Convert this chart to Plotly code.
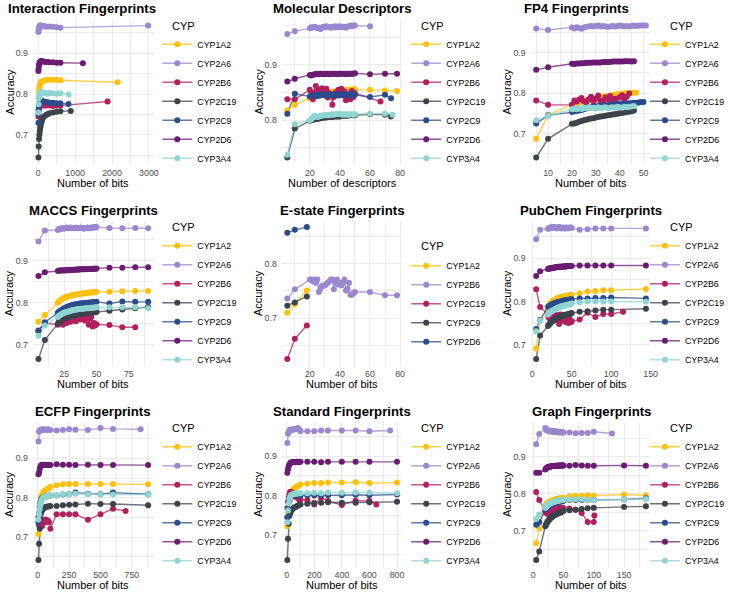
import plotly.graph_objects as go

W, H = 740, 593
FONT = "Liberation Sans, Arial, Helvetica, sans-serif"

CYP_ALL = ["CYP1A2", "CYP2A6", "CYP2B6", "CYP2C19", "CYP2C9", "CYP2D6", "CYP3A4"]
CYP_ESTATE = ["CYP1A2", "CYP2B6", "CYP2C19", "CYP2C9", "CYP2D6"]
PALETTE = ["#FCC00F", "#9B87CF", "#B21F5E", "#3D424B", "#2C4B8C", "#6B1C72", "#8FD5D2"]

# ---------------- shared x grids ----------------
X_INT = [5, 10, 20, 30, 40, 50, 60, 70, 80, 90, 100, 150, 200, 250, 300, 400, 500, 600]
X_MD = [5, 10, 20, 21, 22, 23, 24, 25, 26, 27, 28, 29, 30, 31, 32, 33, 34, 35, 36, 37,
        38, 39, 40, 41, 42, 43, 44, 45, 46, 47, 48, 49, 50]
X_FP4 = [5, 10, 20, 21, 22, 23, 24, 25, 26, 27, 28, 29, 30, 31, 32, 33, 34, 35, 36, 37,
         38, 39, 40, 41, 42, 43, 44, 45, 46, 47, 48, 49, 50, 51]
X_ESTATE = [5, 10, 18]
X_ECFP = [5, 10, 15, 20, 25, 30, 35, 40, 45, 50, 60, 70, 80, 90, 100, 150, 200, 250, 300, 400, 500, 600]
X_STD = [5, 10, 15, 20, 25, 30, 40, 50, 60, 70, 80, 90, 100, 150, 200, 250, 300, 400, 500, 600]

# ---------------- Interaction Fingerprints ----------------
interaction_x = {
    "CYP1A2": X_INT + [2150], "CYP2A6": X_INT + [2980], "CYP2B6": X_INT + [1880],
    "CYP2C19": X_INT + [880], "CYP2C9": X_INT + [820], "CYP2D6": X_INT + [1210],
    "CYP3A4": X_INT + [820],
}
interaction_y = {
    "CYP1A2": [0.762, 0.790, 0.805, 0.815, 0.820, 0.824, 0.826, 0.828, 0.829, 0.830, 0.831, 0.833, 0.834, 0.835, 0.835, 0.835, 0.835, 0.834, 0.829],
    "CYP2A6": [0.952, 0.957, 0.962, 0.965, 0.967, 0.968, 0.967, 0.966, 0.967, 0.968, 0.966, 0.967, 0.966, 0.965, 0.966, 0.965, 0.964, 0.963, 0.968],
    "CYP2B6": [0.745, 0.760, 0.768, 0.772, 0.774, 0.773, 0.775, 0.774, 0.773, 0.774, 0.773, 0.772, 0.772, 0.773, 0.772, 0.771, 0.772, 0.772, 0.782],
    "CYP2C19": [0.645, 0.672, 0.690, 0.700, 0.708, 0.715, 0.720, 0.725, 0.730, 0.733, 0.736, 0.744, 0.748, 0.751, 0.753, 0.755, 0.757, 0.758, 0.759],
    "CYP2C9": [0.730, 0.750, 0.765, 0.772, 0.777, 0.780, 0.782, 0.783, 0.784, 0.783, 0.783, 0.782, 0.781, 0.780, 0.779, 0.779, 0.778, 0.778, 0.776],
    "CYP2D6": [0.857, 0.862, 0.870, 0.875, 0.878, 0.879, 0.880, 0.880, 0.880, 0.881, 0.880, 0.880, 0.879, 0.879, 0.878, 0.878, 0.877, 0.877, 0.876],
    "CYP3A4": [0.755, 0.775, 0.790, 0.796, 0.800, 0.802, 0.803, 0.804, 0.805, 0.804, 0.804, 0.804, 0.802, 0.801, 0.803, 0.802, 0.801, 0.802, 0.799],
}

# ---------------- Molecular Descriptors ----------------
molecular_x = {
    "CYP1A2": X_MD + [60, 70, 78], "CYP2A6": X_MD + [60], "CYP2B6": X_MD + [67],
    "CYP2C19": X_MD + [60, 70, 74], "CYP2C9": X_MD + [60, 70, 74], "CYP2D6": X_MD + [60, 70, 78],
    "CYP3A4": X_MD + [60, 70, 75],
}
molecular_y = {
    "CYP1A2": [0.818, 0.828, 0.840, 0.841, 0.842, 0.843, 0.844, 0.845, 0.846, 0.846, 0.847, 0.848, 0.848, 0.849, 0.850, 0.850, 0.851, 0.851, 0.852, 0.852, 0.852, 0.853, 0.853, 0.853, 0.854, 0.854, 0.854, 0.855, 0.855, 0.855, 0.855, 0.856, 0.856, 0.855, 0.854, 0.853],
    "CYP2A6": [0.956, 0.961, 0.966, 0.968, 0.967, 0.969, 0.968, 0.966, 0.967, 0.965, 0.967, 0.969, 0.968, 0.970, 0.969, 0.968, 0.967, 0.969, 0.968, 0.970, 0.969, 0.968, 0.970, 0.969, 0.968, 0.969, 0.967, 0.969, 0.970, 0.971, 0.970, 0.971, 0.971, 0.970],
    "CYP2B6": [0.838, 0.838, 0.855, 0.848, 0.838, 0.850, 0.862, 0.856, 0.845, 0.852, 0.858, 0.846, 0.853, 0.857, 0.841, 0.849, 0.846, 0.828, 0.842, 0.850, 0.846, 0.855, 0.849, 0.857, 0.845, 0.852, 0.836, 0.848, 0.844, 0.838, 0.853, 0.842, 0.849, 0.834],
    "CYP2C19": [0.733, 0.785, 0.799, 0.800, 0.801, 0.802, 0.802, 0.803, 0.803, 0.804, 0.804, 0.805, 0.805, 0.805, 0.806, 0.806, 0.806, 0.806, 0.807, 0.807, 0.807, 0.807, 0.807, 0.808, 0.808, 0.808, 0.808, 0.808, 0.809, 0.809, 0.809, 0.809, 0.809, 0.811, 0.810, 0.807],
    "CYP2C9": [0.812, 0.848, 0.843, 0.844, 0.845, 0.846, 0.845, 0.844, 0.846, 0.845, 0.846, 0.847, 0.845, 0.846, 0.845, 0.847, 0.846, 0.845, 0.846, 0.847, 0.846, 0.845, 0.847, 0.846, 0.847, 0.846, 0.845, 0.846, 0.847, 0.846, 0.845, 0.847, 0.846, 0.842, 0.846, 0.840],
    "CYP2D6": [0.870, 0.875, 0.882, 0.881, 0.882, 0.883, 0.883, 0.884, 0.883, 0.884, 0.884, 0.883, 0.884, 0.884, 0.884, 0.883, 0.884, 0.884, 0.884, 0.884, 0.883, 0.884, 0.884, 0.884, 0.884, 0.884, 0.883, 0.884, 0.884, 0.884, 0.884, 0.884, 0.885, 0.883, 0.884, 0.884],
    "CYP3A4": [0.738, 0.793, 0.800, 0.802, 0.805, 0.808, 0.807, 0.806, 0.807, 0.808, 0.808, 0.809, 0.809, 0.810, 0.809, 0.810, 0.810, 0.811, 0.810, 0.811, 0.811, 0.812, 0.811, 0.811, 0.810, 0.811, 0.810, 0.811, 0.810, 0.811, 0.811, 0.810, 0.811, 0.812, 0.812, 0.810],
}

# ---------------- FP4 Fingerprints ----------------
fp4_x = {
    "CYP1A2": X_FP4[:30], "CYP2A6": X_FP4[:34], "CYP2B6": X_FP4[:27], "CYP2C19": X_FP4[:29],
    "CYP2C9": X_FP4[:33], "CYP2D6": X_FP4[:29], "CYP3A4": X_FP4[:29],
}
fp4_y = {
    "CYP1A2": [0.687, 0.745, 0.772, 0.773, 0.774, 0.776, 0.778, 0.779, 0.781, 0.783, 0.784, 0.786, 0.787, 0.789, 0.790, 0.791, 0.792, 0.793, 0.794, 0.795, 0.796, 0.797, 0.798, 0.799, 0.799, 0.800, 0.800, 0.801, 0.801, 0.801],
    "CYP2A6": [0.960, 0.956, 0.9625, 0.960, 0.963, 0.961, 0.959, 0.962, 0.964, 0.965, 0.966, 0.965, 0.966, 0.967, 0.965, 0.966, 0.965, 0.964, 0.965, 0.966, 0.965, 0.966, 0.967, 0.966, 0.965, 0.966, 0.965, 0.966, 0.967, 0.966, 0.967, 0.967, 0.967, 0.967],
    "CYP2B6": [0.782, 0.771, 0.771, 0.782, 0.779, 0.784, 0.788, 0.780, 0.776, 0.785, 0.791, 0.779, 0.786, 0.794, 0.781, 0.777, 0.789, 0.784, 0.793, 0.779, 0.786, 0.775, 0.790, 0.795, 0.783, 0.791, 0.799],
    "CYP2C19": [0.641, 0.687, 0.724, 0.725, 0.727, 0.729, 0.731, 0.733, 0.734, 0.736, 0.737, 0.738, 0.740, 0.741, 0.742, 0.743, 0.744, 0.745, 0.746, 0.747, 0.748, 0.749, 0.750, 0.751, 0.752, 0.753, 0.754, 0.755, 0.757],
    "CYP2C9": [0.725, 0.745, 0.753, 0.755, 0.756, 0.757, 0.758, 0.760, 0.762, 0.764, 0.765, 0.766, 0.767, 0.768, 0.768, 0.769, 0.769, 0.770, 0.771, 0.771, 0.772, 0.772, 0.773, 0.773, 0.774, 0.774, 0.775, 0.775, 0.776, 0.776, 0.777, 0.778, 0.778],
    "CYP2D6": [0.8575, 0.864, 0.8725, 0.872, 0.873, 0.873, 0.874, 0.874, 0.875, 0.875, 0.875, 0.876, 0.876, 0.876, 0.876, 0.877, 0.877, 0.877, 0.877, 0.878, 0.878, 0.878, 0.878, 0.878, 0.879, 0.879, 0.879, 0.878, 0.879],
    "CYP3A4": [0.733, 0.744, 0.760, 0.762, 0.760, 0.763, 0.761, 0.764, 0.762, 0.765, 0.763, 0.764, 0.762, 0.765, 0.763, 0.764, 0.765, 0.763, 0.764, 0.765, 0.764, 0.766, 0.765, 0.764, 0.766, 0.765, 0.766, 0.767, 0.768],
}

# ---------------- MACCS Fingerprints ----------------
maccs_x = {
    "CYP1A2": X_MD + [60, 70, 80, 90], "CYP2A6": X_MD + [60, 70, 80, 90], "CYP2B6": X_MD + [60, 70, 80],
    "CYP2C19": X_MD + [60, 70, 80, 90], "CYP2C9": X_MD + [60, 70, 80, 90], "CYP2D6": X_MD + [60, 70, 80, 90],
    "CYP3A4": X_MD + [60, 70, 80, 90],
}
maccs_y = {
    "CYP1A2": [0.755, 0.771, 0.800, 0.803, 0.806, 0.808, 0.810, 0.811, 0.813, 0.814, 0.815, 0.816, 0.817, 0.817, 0.818, 0.819, 0.819, 0.820, 0.820, 0.821, 0.821, 0.822, 0.822, 0.823, 0.823, 0.823, 0.824, 0.824, 0.824, 0.825, 0.825, 0.825, 0.826, 0.826, 0.827, 0.828, 0.828],
    "CYP2A6": [0.945, 0.971, 0.972, 0.975, 0.974, 0.976, 0.977, 0.975, 0.977, 0.978, 0.976, 0.977, 0.978, 0.977, 0.976, 0.977, 0.978, 0.977, 0.976, 0.977, 0.978, 0.977, 0.975, 0.976, 0.977, 0.978, 0.976, 0.977, 0.978, 0.977, 0.979, 0.978, 0.979, 0.977, 0.976, 0.977, 0.976],
    "CYP2B6": [0.733, 0.752, 0.748, 0.760, 0.755, 0.765, 0.748, 0.758, 0.762, 0.752, 0.766, 0.759, 0.755, 0.768, 0.762, 0.770, 0.756, 0.765, 0.772, 0.760, 0.768, 0.764, 0.771, 0.758, 0.766, 0.770, 0.748, 0.762, 0.766, 0.744, 0.752, 0.746, 0.749, 0.747, 0.742, 0.742],
    "CYP2C19": [0.667, 0.712, 0.750, 0.754, 0.757, 0.759, 0.761, 0.763, 0.764, 0.765, 0.766, 0.767, 0.768, 0.769, 0.770, 0.771, 0.771, 0.772, 0.773, 0.773, 0.774, 0.774, 0.775, 0.775, 0.776, 0.776, 0.776, 0.777, 0.777, 0.777, 0.778, 0.778, 0.778, 0.781, 0.784, 0.787, 0.790],
    "CYP2C9": [0.734, 0.754, 0.776, 0.779, 0.781, 0.783, 0.785, 0.787, 0.788, 0.790, 0.791, 0.792, 0.793, 0.794, 0.795, 0.796, 0.796, 0.797, 0.797, 0.798, 0.798, 0.799, 0.799, 0.799, 0.800, 0.800, 0.800, 0.800, 0.801, 0.801, 0.801, 0.801, 0.802, 0.798, 0.803, 0.802, 0.802],
    "CYP2D6": [0.863, 0.872, 0.875, 0.876, 0.876, 0.876, 0.877, 0.876, 0.877, 0.877, 0.877, 0.878, 0.877, 0.878, 0.878, 0.878, 0.878, 0.879, 0.878, 0.879, 0.879, 0.879, 0.879, 0.880, 0.879, 0.880, 0.880, 0.880, 0.880, 0.880, 0.881, 0.880, 0.881, 0.883, 0.883, 0.884, 0.884],
    "CYP3A4": [0.722, 0.746, 0.766, 0.769, 0.771, 0.773, 0.775, 0.776, 0.777, 0.778, 0.779, 0.780, 0.781, 0.782, 0.782, 0.783, 0.784, 0.784, 0.785, 0.785, 0.786, 0.786, 0.786, 0.787, 0.787, 0.787, 0.787, 0.788, 0.788, 0.788, 0.788, 0.789, 0.789, 0.789, 0.789, 0.789, 0.787],
}

# ---------------- E-state Fingerprints ----------------
estate_x = {
    "CYP1A2": X_ESTATE, "CYP2B6": X_MD + [60, 70, 78], "CYP2C19": X_ESTATE,
    "CYP2C9": X_ESTATE, "CYP2D6": X_ESTATE,
}
estate_y = {
    "CYP1A2": [0.710, 0.726, 0.751],
    "CYP2B6": [0.736, 0.753, 0.771, 0.771, 0.768, 0.771, 0.765, 0.771, 0.748, 0.754, 0.759, 0.760, 0.760, 0.763, 0.765, 0.768, 0.771, 0.771, 0.753, 0.765, 0.771, 0.762, 0.765, 0.760, 0.765, 0.771, 0.751, 0.754, 0.765, 0.743, 0.743, 0.746, 0.748, 0.748, 0.742, 0.742],
    "CYP2C19": [0.625, 0.662, 0.6865],
    "CYP2C9": [0.723, 0.729, 0.740],
    "CYP2D6": [0.857, 0.8625, 0.8675],
}

# ---------------- PubChem Fingerprints ----------------
pubchem_x = {
    "CYP1A2": X_MD + [60, 70, 80, 90, 100, 144], "CYP2A6": X_MD + [60, 70, 80, 90, 100, 144],
    "CYP2B6": X_MD + [60, 70, 80, 90, 100, 115], "CYP2C19": X_MD + [60, 70, 80, 90, 100, 144],
    "CYP2C9": X_MD + [60, 70, 80, 90, 100, 144], "CYP2D6": X_MD + [60, 70, 80, 90, 100, 144],
    "CYP3A4": X_MD + [60, 70, 80, 90, 100, 144],
}
pubchem_y = {
    "CYP1A2": [0.691, 0.758, 0.785, 0.789, 0.792, 0.795, 0.797, 0.799, 0.800, 0.802, 0.803, 0.804, 0.805, 0.806, 0.807, 0.808, 0.809, 0.809, 0.810, 0.810, 0.811, 0.811, 0.812, 0.812, 0.812, 0.813, 0.813, 0.813, 0.814, 0.814, 0.814, 0.815, 0.815, 0.819, 0.823, 0.824, 0.826, 0.826, 0.829],
    "CYP2A6": [0.944, 0.966, 0.968, 0.970, 0.969, 0.971, 0.970, 0.972, 0.971, 0.970, 0.972, 0.971, 0.970, 0.969, 0.971, 0.970, 0.972, 0.971, 0.970, 0.969, 0.970, 0.971, 0.970, 0.969, 0.970, 0.971, 0.970, 0.969, 0.970, 0.971, 0.970, 0.971, 0.970, 0.966, 0.967, 0.969, 0.969, 0.969, 0.969],
    "CYP2B6": [0.828, 0.787, 0.770, 0.762, 0.768, 0.758, 0.765, 0.772, 0.755, 0.768, 0.762, 0.770, 0.757, 0.765, 0.760, 0.768, 0.748, 0.762, 0.770, 0.758, 0.765, 0.760, 0.755, 0.768, 0.762, 0.752, 0.765, 0.758, 0.750, 0.762, 0.755, 0.752, 0.754, 0.758, 0.774, 0.764, 0.771, 0.771, 0.776],
    "CYP2C19": [0.667, 0.721, 0.743, 0.746, 0.748, 0.750, 0.752, 0.754, 0.755, 0.757, 0.758, 0.759, 0.760, 0.761, 0.762, 0.763, 0.764, 0.765, 0.765, 0.766, 0.767, 0.767, 0.768, 0.768, 0.769, 0.769, 0.770, 0.770, 0.771, 0.771, 0.772, 0.772, 0.773, 0.776, 0.777, 0.779, 0.781, 0.781, 0.783],
    "CYP2C9": [0.736, 0.757, 0.787, 0.789, 0.790, 0.791, 0.792, 0.793, 0.794, 0.795, 0.795, 0.796, 0.797, 0.797, 0.798, 0.798, 0.799, 0.799, 0.800, 0.800, 0.801, 0.801, 0.802, 0.802, 0.802, 0.803, 0.803, 0.803, 0.804, 0.804, 0.804, 0.805, 0.805, 0.807, 0.807, 0.808, 0.808, 0.809, 0.807],
    "CYP2D6": [0.859, 0.870, 0.875, 0.876, 0.876, 0.877, 0.877, 0.877, 0.878, 0.878, 0.878, 0.879, 0.879, 0.879, 0.879, 0.880, 0.880, 0.880, 0.880, 0.880, 0.881, 0.881, 0.881, 0.881, 0.881, 0.881, 0.882, 0.882, 0.882, 0.882, 0.882, 0.882, 0.882, 0.883, 0.883, 0.883, 0.883, 0.883, 0.883],
    "CYP3A4": [0.731, 0.756, 0.770, 0.772, 0.774, 0.776, 0.777, 0.778, 0.779, 0.780, 0.781, 0.782, 0.783, 0.784, 0.785, 0.786, 0.786, 0.787, 0.788, 0.788, 0.789, 0.789, 0.790, 0.790, 0.791, 0.791, 0.792, 0.792, 0.793, 0.793, 0.794, 0.794, 0.795, 0.798, 0.800, 0.800, 0.800, 0.800, 0.799],
}

# ---------------- ECFP Fingerprints ----------------
ecfp_x = {
    "CYP1A2": X_ECFP + [880], "CYP2A6": X_ECFP + [820], "CYP2B6": X_ECFP + [700],
    "CYP2C19": X_ECFP + [880], "CYP2C9": X_ECFP + [880], "CYP2D6": X_ECFP + [880],
    "CYP3A4": X_ECFP + [880],
}
ecfp_y = {
    "CYP1A2": [0.708, 0.734, 0.764, 0.789, 0.800, 0.805, 0.808, 0.810, 0.813, 0.817, 0.819, 0.821, 0.823, 0.825, 0.828, 0.832, 0.834, 0.835, 0.835, 0.835, 0.835, 0.835, 0.834],
    "CYP2A6": [0.943, 0.968, 0.970, 0.972, 0.973, 0.972, 0.974, 0.973, 0.972, 0.974, 0.973, 0.972, 0.974, 0.973, 0.972, 0.971, 0.972, 0.974, 0.973, 0.972, 0.977, 0.975, 0.974],
    "CYP2B6": [0.751, 0.730, 0.745, 0.725, 0.738, 0.743, 0.728, 0.735, 0.740, 0.738, 0.745, 0.738, 0.742, 0.738, 0.721, 0.758, 0.758, 0.758, 0.758, 0.744, 0.758, 0.772, 0.766],
    "CYP2C19": [0.642, 0.683, 0.721, 0.747, 0.760, 0.766, 0.769, 0.771, 0.773, 0.775, 0.776, 0.777, 0.778, 0.778, 0.779, 0.779, 0.781, 0.782, 0.783, 0.785, 0.784, 0.784, 0.781],
    "CYP2C9": [0.738, 0.760, 0.776, 0.787, 0.793, 0.797, 0.799, 0.800, 0.801, 0.802, 0.803, 0.804, 0.804, 0.805, 0.806, 0.806, 0.808, 0.809, 0.813, 0.810, 0.809, 0.813, 0.809],
    "CYP2D6": [0.860, 0.864, 0.873, 0.879, 0.882, 0.883, 0.883, 0.884, 0.883, 0.884, 0.883, 0.884, 0.883, 0.884, 0.883, 0.885, 0.884, 0.884, 0.883, 0.884, 0.883, 0.883, 0.883],
    "CYP3A4": [0.745, 0.758, 0.771, 0.781, 0.788, 0.793, 0.796, 0.798, 0.800, 0.801, 0.803, 0.804, 0.805, 0.805, 0.806, 0.806, 0.809, 0.808, 0.810, 0.809, 0.808, 0.808, 0.808],
}

# ---------------- Standard Fingerprints ----------------
standard_x = {
    "CYP1A2": X_STD + [800], "CYP2A6": X_STD + [750], "CYP2B6": X_STD + [650],
    "CYP2C19": X_STD + [800], "CYP2C9": X_STD + [800], "CYP2D6": X_STD + [800],
    "CYP3A4": X_STD + [800],
}
standard_y = {
    "CYP1A2": [0.722, 0.758, 0.783, 0.796, 0.800, 0.805, 0.811, 0.816, 0.819, 0.822, 0.824, 0.826, 0.828, 0.830, 0.832, 0.832, 0.833, 0.833, 0.834, 0.832, 0.833],
    "CYP2A6": [0.934, 0.958, 0.962, 0.966, 0.968, 0.966, 0.969, 0.968, 0.970, 0.969, 0.972, 0.969, 0.964, 0.964, 0.964, 0.966, 0.966, 0.966, 0.966, 0.964, 0.966],
    "CYP2B6": [0.768, 0.784, 0.795, 0.803, 0.809, 0.810, 0.806, 0.800, 0.797, 0.800, 0.795, 0.790, 0.790, 0.788, 0.777, 0.795, 0.786, 0.776, 0.787, 0.786, 0.777],
    "CYP2C19": [0.636, 0.690, 0.728, 0.748, 0.754, 0.758, 0.764, 0.768, 0.770, 0.772, 0.774, 0.776, 0.777, 0.779, 0.781, 0.782, 0.783, 0.782, 0.782, 0.783, 0.784],
    "CYP2C9": [0.745, 0.766, 0.783, 0.790, 0.796, 0.799, 0.800, 0.801, 0.800, 0.801, 0.801, 0.800, 0.800, 0.801, 0.800, 0.801, 0.801, 0.801, 0.802, 0.801, 0.803],
    "CYP2D6": [0.858, 0.867, 0.875, 0.879, 0.882, 0.884, 0.885, 0.886, 0.885, 0.886, 0.886, 0.885, 0.886, 0.886, 0.886, 0.885, 0.886, 0.886, 0.886, 0.886, 0.886],
    "CYP3A4": [0.732, 0.762, 0.780, 0.792, 0.797, 0.800, 0.803, 0.804, 0.804, 0.805, 0.805, 0.806, 0.806, 0.806, 0.807, 0.806, 0.808, 0.807, 0.808, 0.808, 0.806],
}

# ---------------- Graph Fingerprints ----------------
graph_x = {
    "CYP1A2": X_MD + [60, 70, 80, 90, 100, 150, 186], "CYP2A6": X_MD + [60, 70, 80, 90, 100, 130],
    "CYP2B6": X_MD + [60, 70, 80, 90, 100, 101], "CYP2C19": X_MD + [60, 70, 80, 90, 100, 150, 186],
    "CYP2C9": X_MD + [60, 70, 80, 90, 100, 150, 186], "CYP2D6": X_MD + [60, 70, 80, 90, 100, 150, 186],
    "CYP3A4": X_MD + [60, 70, 80, 90, 100, 150, 186],
}
graph_y = {
    "CYP1A2": [0.666, 0.707, 0.766, 0.769, 0.772, 0.774, 0.776, 0.776, 0.777, 0.778, 0.779, 0.780, 0.780, 0.781, 0.782, 0.782, 0.783, 0.783, 0.784, 0.784, 0.785, 0.785, 0.786, 0.786, 0.787, 0.787, 0.787, 0.788, 0.788, 0.788, 0.789, 0.789, 0.789, 0.7935, 0.795, 0.795, 0.796, 0.795, 0.798, 0.796],
    "CYP2A6": [0.9345, 0.962, 0.978, 0.975, 0.973, 0.972, 0.971, 0.972, 0.970, 0.971, 0.969, 0.970, 0.971, 0.969, 0.970, 0.968, 0.969, 0.970, 0.968, 0.969, 0.967, 0.968, 0.969, 0.967, 0.968, 0.966, 0.967, 0.968, 0.966, 0.967, 0.966, 0.967, 0.966, 0.966, 0.964, 0.9645, 0.9645, 0.968, 0.9635],
    "CYP2B6": [0.805, 0.783, 0.753, 0.748, 0.756, 0.750, 0.745, 0.752, 0.758, 0.748, 0.755, 0.750, 0.760, 0.752, 0.757, 0.748, 0.755, 0.761, 0.752, 0.758, 0.750, 0.756, 0.762, 0.754, 0.759, 0.751, 0.757, 0.763, 0.755, 0.760, 0.758, 0.762, 0.760, 0.760, 0.757, 0.748, 0.724, 0.724, 0.741],
    "CYP2C19": [0.621, 0.644, 0.712, 0.716, 0.719, 0.722, 0.725, 0.727, 0.729, 0.731, 0.733, 0.735, 0.736, 0.737, 0.739, 0.740, 0.741, 0.742, 0.743, 0.744, 0.745, 0.746, 0.746, 0.747, 0.748, 0.749, 0.749, 0.750, 0.751, 0.752, 0.752, 0.753, 0.754, 0.7555, 0.757, 0.759, 0.761, 0.762, 0.7645, 0.766],
    "CYP2C9": [0.716, 0.723, 0.757, 0.759, 0.761, 0.763, 0.764, 0.766, 0.767, 0.768, 0.769, 0.770, 0.771, 0.772, 0.773, 0.773, 0.774, 0.775, 0.775, 0.776, 0.776, 0.777, 0.777, 0.778, 0.778, 0.779, 0.779, 0.779, 0.780, 0.780, 0.780, 0.781, 0.781, 0.783, 0.783, 0.783, 0.783, 0.783, 0.7845, 0.788],
    "CYP2D6": [0.857, 0.857, 0.866, 0.868, 0.870, 0.871, 0.872, 0.872, 0.873, 0.873, 0.874, 0.874, 0.874, 0.875, 0.875, 0.875, 0.875, 0.875, 0.876, 0.876, 0.876, 0.876, 0.876, 0.876, 0.876, 0.877, 0.877, 0.877, 0.877, 0.877, 0.877, 0.877, 0.877, 0.876, 0.878, 0.877, 0.876, 0.876, 0.877, 0.876],
    "CYP3A4": [0.732, 0.744, 0.762, 0.764, 0.766, 0.768, 0.770, 0.771, 0.772, 0.773, 0.774, 0.775, 0.776, 0.776, 0.777, 0.778, 0.778, 0.779, 0.779, 0.780, 0.780, 0.781, 0.781, 0.781, 0.782, 0.782, 0.782, 0.783, 0.783, 0.783, 0.784, 0.784, 0.784, 0.7845, 0.785, 0.785, 0.783, 0.783, 0.785, 0.786],
}

# title, x title, x dict, y dict, series names, x breaks, y breaks
PANELS = [
    ("Interaction Fingerprints", "Number of bits", interaction_x, interaction_y, CYP_ALL, [0, 1000, 2000, 3000], [0.7, 0.8, 0.9]),
    ("Molecular Descriptors", "Number of descriptors", molecular_x, molecular_y, CYP_ALL, [20, 40, 60, 80], [0.8, 0.9]),
    ("FP4 Fingerprints", "Number of bits", fp4_x, fp4_y, CYP_ALL, [10, 20, 30, 40, 50], [0.7, 0.8, 0.9]),
    ("MACCS Fingerprints", "Number of bits", maccs_x, maccs_y, CYP_ALL, [25, 50, 75], [0.7, 0.8, 0.9]),
    ("E-state Fingerprints", "Number of bits", estate_x, estate_y, CYP_ESTATE, [20, 40, 60, 80], [0.7, 0.8]),
    ("PubChem Fingerprints", "Number of bits", pubchem_x, pubchem_y, CYP_ALL, [0, 50, 100, 150], [0.7, 0.8, 0.9]),
    ("ECFP Fingerprints", "Number of bits", ecfp_x, ecfp_y, CYP_ALL, [0, 250, 500, 750], [0.7, 0.8, 0.9]),
    ("Standard Fingerprints", "Number of bits", standard_x, standard_y, CYP_ALL, [0, 200, 400, 600, 800], [0.7, 0.8, 0.9]),
    ("Graph Fingerprints", "Number of bits", graph_x, graph_y, CYP_ALL, [0, 50, 100, 150], [0.7, 0.8, 0.9]),
]

# ---------------- geometry (pixels) ----------------
COL_X0 = [32.3, 283.9, 535.5]
ROW_Y0 = [19.0, 220.5, 421.5]
PW, PH = 122.0, 145.0
LEG_X = [158.0, 409.6, 651.0]
CYP_X = [171.0, 422.6, 674.2]
TITLE_LEFT = {0: 5.0, 2: 527.0}  # titles that sit left of panel centre

GRID = "#EBEBEB"
TICKC = "#4D4D4D"


def px(xp):
    return xp / W


def py(yp):
    return 1 - yp / H


def rgba(hexc, a):
    h = hexc.lstrip("#")
    return "rgba(%d,%d,%d,%.2f)" % (int(h[0:2], 16), int(h[2:4], 16), int(h[4:6], 16), a)


def minors(majors, lo, hi):
    d = majors[1] - majors[0]
    vals = [m - d / 2 for m in majors] + [majors[-1] + d / 2]
    return [v for v in vals if lo <= v <= hi]


def fmt(v):
    return ("%g" % v)


fig = go.Figure()
layout = dict(
    width=W, height=H, margin=dict(l=0, r=0, t=0, b=0),
    paper_bgcolor="white", plot_bgcolor="white", hovermode=False,
    font=dict(family=FONT, color="black"), showlegend=True,
)
annotations = []

for i, (title, xtitle, xd, yd, names, xbr, ybr) in enumerate(PANELS):
    k = i + 1
    r, c = divmod(i, 3)
    sfx = "" if k == 1 else str(k)
    xa, ya = "x" + sfx, "y" + sfx
    lkey = "legend" + sfx
    x0, y0 = COL_X0[c], ROW_Y0[r]

    allx = [v for n in names for v in xd[n]]
    ally = [v for n in names for v in yd[n]]
    xmin, xmax = min(allx), max(allx)
    ymin, ymax = min(ally), max(ally)
    dx, dy = (xmax - xmin) * 0.05, (ymax - ymin) * 0.05
    xr = [xmin - dx, xmax + dx]
    yr = [ymin - dy, ymax + dy]

    common = dict(showline=False, zeroline=False, ticks="", showgrid=True,
                  gridcolor=GRID, gridwidth=1.1, tickmode="array",
                  tickfont=dict(size=8.8, color=TICKC, family=FONT), fixedrange=True)
    layout["xaxis" + sfx] = dict(
        common, domain=[px(x0), px(x0 + PW)], range=xr, anchor=ya,
        tickvals=xbr, ticktext=[fmt(v) for v in xbr], ticklabelstandoff=2,
        minor=dict(tickvals=minors(xbr, xr[0], xr[1]), showgrid=True, gridcolor=GRID, gridwidth=0.55, ticks=""),
    )
    layout["yaxis" + sfx] = dict(
        common, domain=[py(y0 + PH), py(y0)], range=yr, anchor=xa,
        tickvals=ybr, ticktext=[fmt(v) for v in ybr], ticklabelstandoff=4,
        minor=dict(tickvals=minors(ybr, yr[0], yr[1]), showgrid=True, gridcolor=GRID, gridwidth=0.55, ticks=""),
    )

    # lines underneath, points on top
    for j, n in enumerate(names):
        fig.add_trace(go.Scatter(x=xd[n], y=yd[n], mode="lines", xaxis=xa, yaxis=ya,
                                 line=dict(color=rgba(PALETTE[j], 0.75), width=1.4),
                                 showlegend=False, hoverinfo="skip"))
    for j, n in enumerate(names):
        fig.add_trace(go.Scatter(x=xd[n], y=yd[n], mode="markers", xaxis=xa, yaxis=ya,
                                 marker=dict(color=PALETTE[j], size=6, line=dict(width=0)),
                                 showlegend=False, name=n))
    for j, n in enumerate(names):
        fig.add_trace(go.Scatter(x=[None], y=[None], mode="lines+markers", xaxis=xa, yaxis=ya,
                                 line=dict(color=rgba(PALETTE[j], 0.75), width=1.4),
                                 marker=dict(color=PALETTE[j], size=6, line=dict(width=0)),
                                 name=n, legend=lkey, showlegend=True))

    first_item = 45.2 if len(names) == 5 else 25.3
    cyp_y = 25.2 if len(names) == 5 else 6.5
    layout[lkey] = dict(
        x=px(LEG_X[c]), y=py(y0 + first_item - 14.5), xanchor="left", yanchor="top",
        bgcolor="rgba(0,0,0,0)", borderwidth=0, itemwidth=30, tracegroupgap=0,
        font=dict(size=8.8, color="black", family=FONT), title=dict(text=""),
    )

    # panel title
    if i in TITLE_LEFT:
        annotations.append(dict(text="<b>%s</b>" % title, x=px(TITLE_LEFT[i]), y=py(y0 - 10.5),
                                xanchor="left", yanchor="middle", showarrow=False,
                                xref="paper", yref="paper", font=dict(size=13.2, color="black")))
    else:
        annotations.append(dict(text="<b>%s</b>" % title, x=px(x0 + PW / 2), y=py(y0 - 10.5),
                                xanchor="center", yanchor="middle", showarrow=False,
                                xref="paper", yref="paper", font=dict(size=13.2, color="black")))
    # axis titles
    annotations.append(dict(text=xtitle, x=px(x0 + PW / 2), y=py(y0 + 163.5), xanchor="center",
                            yanchor="middle", showarrow=False, xref="paper", yref="paper",
                            font=dict(size=11, color="black")))
    annotations.append(dict(text="Accuracy", x=px(x0 - 24), y=py(y0 + PH / 2), xanchor="center",
                            yanchor="middle", textangle=-90, showarrow=False, xref="paper",
                            yref="paper", font=dict(size=11, color="black")))
    # legend title
    annotations.append(dict(text="CYP", x=px(CYP_X[c]), y=py(y0 + cyp_y), xanchor="left",
                            yanchor="middle", showarrow=False, xref="paper", yref="paper",
                            font=dict(size=11, color="black")))

layout["annotations"] = annotations
fig.update_layout(**layout)
fig.write_html("out.html", config={"displayModeBar": False, "staticPlot": False},
               post_script="document.body.style.margin='0px';")
